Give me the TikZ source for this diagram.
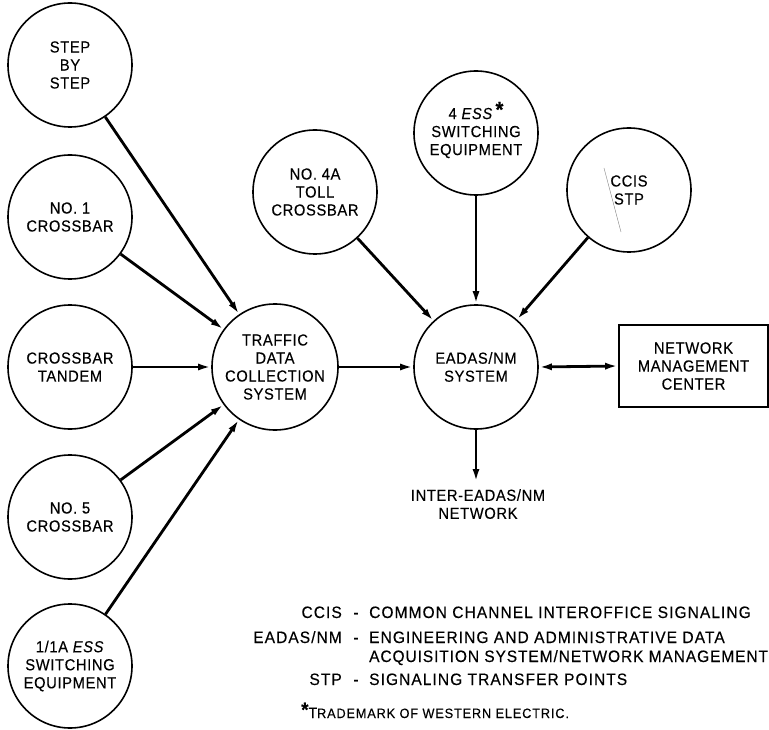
\documentclass[tikz,border=0pt]{standalone}
\usepackage{fontspec}
\setmainfont{Liberation Sans}[LetterSpace=4, FakeStretch=0.92, FakeBold=0.3]
\newfontfamily\legendfont{Liberation Sans}[LetterSpace=6.5, FakeStretch=0.94, FakeBold=0.3]
\usetikzlibrary{arrows.meta}
\begin{document}
\begin{tikzpicture}[x=1pt,y=-1pt,
  unit/.style={circle, draw, line width=1.6pt, minimum size=124pt, inner sep=0pt,
    align=center, font=\fontsize{16}{18}\selectfont},
  flow/.style={line width=2.8pt, -{Latex[length=13pt,width=7pt]}},
  bothflow/.style={line width=2.8pt, {Latex[length=13pt,width=7pt]}-{Latex[length=13pt,width=7pt]}},
  lbl/.style={align=center, inner sep=0pt, font=\fontsize{16}{18}\selectfont},
  leg/.style={inner sep=0pt, font=\legendfont\fontsize{16.5}{19}\selectfont}]
\useasboundingbox (0,0) rectangle (769,730);

% left column
\node[unit] (sxs) at (70,65) {STEP\\BY\\STEP};
\node[unit] (x1) at (70,217) {NO. 1\\CROSSBAR};
\node[unit] (xt) at (70,367) {CROSSBAR\\TANDEM};
\node[unit] (x5) at (70,517) {NO. 5\\CROSSBAR};
\node[unit] (ess1) at (70,666) {1/1A \textit{ESS}\\SWITCHING\\EQUIPMENT};

% centre
\node[unit, minimum size=126pt] (tdcs) at (275,367) {TRAFFIC\\DATA\\COLLECTION\\SYSTEM};
\node[unit] (eadas) at (476,367) {EADAS/NM\\SYSTEM};

% top
\node[unit] (x4a) at (315,192) {NO. 4A\\TOLL\\CROSSBAR};
\node[unit] (ess4) at (476,133) {4 \textit{ESS}\,\raisebox{2pt}[0pt][0pt]{\fontsize{22}{22}\selectfont\bfseries *}\\SWITCHING\\EQUIPMENT};
\node[unit] (ccis) at (629,190) {CCIS\\STP};
\draw[gray, line width=0.4pt] (604,168) -- (621,232);

% network management center
\node[draw, line width=1.6pt, minimum width=149pt, minimum height=82pt, inner sep=0pt,
  align=center, font=\fontsize{16}{18}\selectfont] (nmc) at (693.5,366) {NETWORK\\MANAGEMENT\\CENTER};

% connectors
\draw[flow] (sxs) -- (tdcs);
\draw[flow] (x1) -- (tdcs);
\draw[flow] (xt) -- (tdcs);
\draw[flow] (x5) -- (tdcs);
\draw[flow] (ess1) -- (tdcs);
\draw[flow] (tdcs) -- (eadas);
\draw[flow] (x4a) -- (eadas);
\draw[flow] (ess4) -- (eadas);
\draw[flow] (ccis) -- (eadas);
\draw[bothflow] (eadas.east) -- (nmc.west);
\coordinate (inet) at (476,482);
\draw[flow] (eadas.south) -- (inet);
\node[lbl, anchor=north] (inetl) at (478,489) {INTER-EADAS/NM\\NETWORK};

% legend
\node[leg, anchor=base east] (a1) at (342,618) {CCIS};
\node[leg, anchor=base] (d1) at (356,618) {-};
\node[leg, anchor=base west] (t1) at (369,618) {COMMON CHANNEL INTEROFFICE SIGNALING};
\node[leg, anchor=base east] (a2) at (342,643) {EADAS/NM};
\node[leg, anchor=base] (d2) at (356,643) {-};
\node[leg, anchor=base west] (t2) at (369,643) {ENGINEERING AND ADMINISTRATIVE DATA};
\node[leg, anchor=base west] (t2b) at (369,662) {\addfontfeatures{LetterSpace=5.5}ACQUISITION SYSTEM/NETWORK MANAGEMENT};
\node[leg, anchor=base east] (a3) at (342,685) {STP};
\node[leg, anchor=base] (d3) at (356,685) {-};
\node[leg, anchor=base west] (t3) at (369,685) {SIGNALING TRANSFER POINTS};
\node[leg, anchor=base west] (fn) at (301,718) {\raisebox{1.5pt}{\fontsize{20}{18}\selectfont\bfseries *}{\fontsize{15}{18}\selectfont T}{\fontsize{13.5}{18}\selectfont RADEMARK OF WESTERN ELECTRIC.}};
\end{tikzpicture}
\end{document}
